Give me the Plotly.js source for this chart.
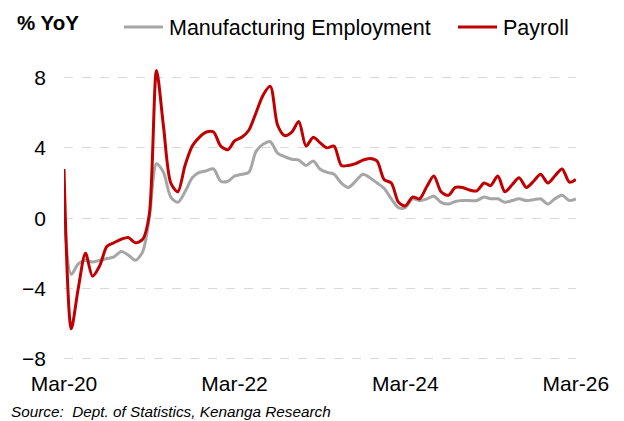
<!DOCTYPE html>
<html>
<head>
<meta charset="utf-8">
<script src="https://cdn.plot.ly/plotly-3.0.1.min.js"></script>
<style>html,body{margin:0;padding:0;background:#fff;}#chart{width:624px;height:421px;}</style>
</head>
<body>
<div id="chart"></div>
<script>
const months = [
 '2020-03','2020-04','2020-05','2020-06','2020-07','2020-08','2020-09','2020-10','2020-11','2020-12',
 '2021-01','2021-02','2021-03','2021-04','2021-05','2021-06','2021-07','2021-08','2021-09','2021-10','2021-11','2021-12',
 '2022-01','2022-02','2022-03','2022-04','2022-05','2022-06','2022-07','2022-08','2022-09','2022-10','2022-11','2022-12',
 '2023-01','2023-02','2023-03','2023-04','2023-05','2023-06','2023-07','2023-08','2023-09','2023-10','2023-11','2023-12',
 '2024-01','2024-02','2024-03','2024-04','2024-05','2024-06','2024-07','2024-08','2024-09','2024-10','2024-11','2024-12',
 '2025-01','2025-02','2025-03','2025-04','2025-05','2025-06','2025-07','2025-08','2025-09','2025-10','2025-11','2025-12',
 '2026-01','2026-02','2026-03'
];
const manufacturing = [
 0.5,-3.2,-2.6,-2.4,-2.5,-2.4,-2.3,-2.2,-1.9,-2.1,
 -2.4,-1.9,0.0,3.1,2.6,1.2,0.9,1.5,2.3,2.6,2.7,2.8,
 2.1,2.1,2.4,2.5,2.6,3.8,4.2,4.35,3.7,3.5,3.35,3.3,
 3.0,3.25,2.8,2.6,2.5,2.0,1.75,2.1,2.5,2.3,2.0,1.7,
 1.1,0.6,0.6,1.1,1.0,1.1,1.25,0.9,0.8,0.95,1.0,1.0,
 1.0,1.2,1.1,1.1,0.9,1.0,1.1,1.0,1.05,1.1,0.8,1.1,
 1.3,1.0,1.1
];
const payroll = [
 2.8,-6.3,-4.0,-2.0,-3.3,-2.7,-1.6,-1.4,-1.2,-1.1,
 -1.4,-1.2,0.2,8.4,5.2,2.0,1.5,3.0,4.1,4.6,4.9,4.9,
 4.1,3.9,4.4,4.6,5.0,6.0,7.0,7.5,5.3,4.7,4.9,5.5,
 4.1,4.6,4.3,4.0,4.1,3.0,3.0,3.1,3.3,3.4,3.25,2.2,
 2.0,0.9,0.7,1.2,1.1,1.8,2.4,1.5,1.3,1.75,1.75,1.6,
 1.55,2.0,1.85,2.4,1.5,1.9,2.3,1.75,2.1,2.5,2.0,2.4,
 2.8,2.05,2.2
];
const tickDates = ['2020-03-01','2022-03-01','2024-03-01','2026-03-01'];
const tickLabels = ['Mar-20','Mar-22','Mar-24','Mar-26'];
const yTicks = [-8,-4,0,4,8];
const seriesNames = ['Manufacturing Employment','Payroll'];
const seriesColors = ['#a6a6a6','#c00000'];

const yMin = -8.3, yMax = 9.0;
const xRange = ['2020-03-01','2026-03-01 12:00'];
const font = 'Liberation Sans, Arial, sans-serif';

// plot-area geometry helpers (pixels -> paper fractions)
const L = 64, T = 60, W = 512, H = 304;
const px = v => (v - L) / W;
const py = v => (T + H - v) / H;

const traces = [
 {x: months, y: manufacturing, name: seriesNames[0], type:'scatter', mode:'lines',
  line:{color:seriesColors[0], width:3, shape:'spline', smoothing:0.8}},
 {x: months, y: payroll, name: seriesNames[1], type:'scatter', mode:'lines',
  line:{color:seriesColors[1], width:3, shape:'spline', smoothing:0.8}}
];

const legendY = 27;
const legendItems = [
 {x0:124, x1:163, tx:167},
 {x0:458, x1:497, tx:501}
];
const shapes = legendItems.map((it, i) => ({
 type:'line', xref:'paper', yref:'paper', x0:px(it.x0), x1:px(it.x1), y0:py(legendY), y1:py(legendY),
 line:{color:seriesColors[i], width:3}
}));
const annotations = legendItems.map((it, i) => ({
 text: seriesNames[i], xref:'paper', yref:'paper', x:px(it.tx), y:py(legendY+1), xanchor:'left', yanchor:'middle',
 showarrow:false, font:{family:font, size:21.5, color:'#000'}
}));
annotations.push({text:'<i>Source:  Dept. of Statistics, Kenanga Research</i>', xref:'paper', yref:'paper',
  x:px(9), xanchor:'left', y:py(411), yanchor:'middle', showarrow:false,
  font:{family:font, size:15.3, color:'#000'}});

const layout = {
 width:624, height:421,
 margin:{l:L, r:624-L-W, t:T, b:421-T-H},
 paper_bgcolor:'#fff', plot_bgcolor:'#fff',
 font:{family:font, color:'#000', size:21},
 title:{text:'<b>% YoY</b>', x:17/624, xanchor:'left', xref:'container', y:1-23/421, yanchor:'middle', yref:'container',
  font:{family:font, size:20.5, color:'#000'}},
 showlegend:false,
 xaxis:{type:'date', range:xRange, showgrid:false, zeroline:false, showline:false, ticks:'',
  tickvals:tickDates, ticktext:tickLabels, ticklabelstandoff:5, tickfont:{family:font, size:21, color:'#000'}},
 xaxis2:{type:'date', range:xRange, overlaying:'x', anchor:'free', position:(0-yMin)/(yMax-yMin),
  showline:true, linecolor:'#000', linewidth:1.5, ticks:'outside', ticklen:6, tickwidth:1.5, tickcolor:'#000',
  tickvals:tickDates, showticklabels:false, showgrid:false, zeroline:false},
 yaxis:{range:[yMin,yMax], tickvals:yTicks, showgrid:true, gridcolor:'#d9d9d9', griddash:'dash', gridwidth:1,
  zeroline:false, showline:false, ticks:'', ticklabelstandoff:17, tickfont:{family:font, size:21, color:'#000'}},
 shapes: shapes,
 annotations: annotations
};

Plotly.newPlot('chart', traces, layout, {staticPlot:true, displayModeBar:false});
</script>
</body>
</html>
